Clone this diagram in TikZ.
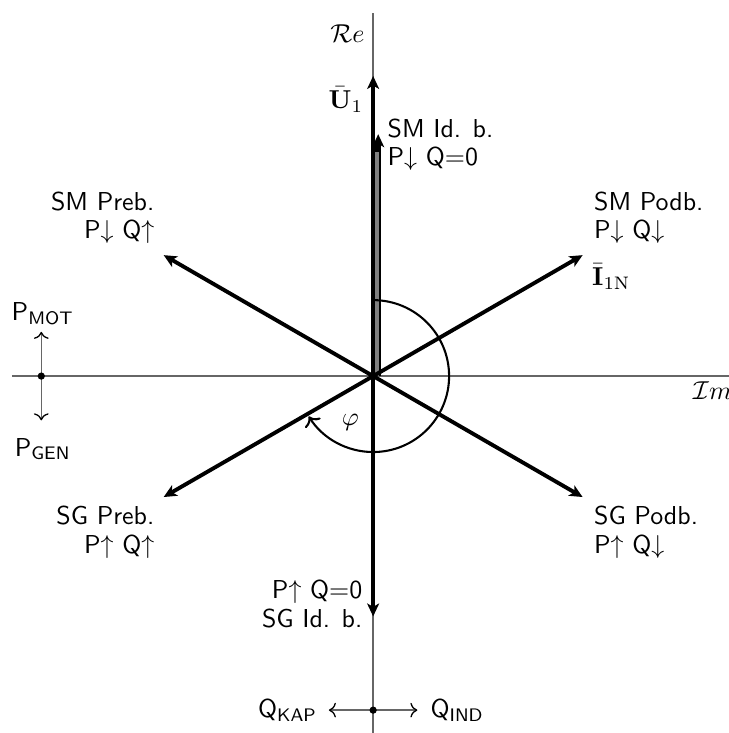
\documentclass[tikz,border=0pt]{standalone}
\usepackage{amsmath,amssymb}
\usepackage{tikz}
\usepackage{xcolor}
\usetikzlibrary{arrows.meta}

\begin{document}
\begin{tikzpicture}[x=1cm,y=1cm,
  axis/.style={black!60,line width=0.5pt},
  small/.style={black!60,line width=0.5pt,-{To[black]}},
  vec/.style={line width=1.5pt,-{Stealth[length=5pt,width=4.6pt,inset=1.3pt]}},
  lbl/.style={font=\sffamily,inner sep=0pt}]
\useasboundingbox (-5.06,-4.84) rectangle (4.82,5.10);
\coordinate (O) at (0,0);
\coordinate (ReTop) at (0,4.93);
\coordinate (ReBot) at (0,-4.84);
\coordinate (ImLeft) at (-4.90,0);
\coordinate (ImRight) at (4.82,0);
\draw[axis] (ReBot) -- (ReTop);
\draw[axis] (ImLeft) -- (ImRight);
\node (re) at (-0.35,4.64) {$\mathcal{R}e$};
\node (im) at (4.6,-0.2) {$\mathcal{I}m$};
\coordinate (U) at (0,4.07);
\coordinate (SMid) at (90:3.28);
\coordinate (SMpreb) at (150:3.28);
\coordinate (SMpodb) at (30:3.28);
\coordinate (SGpreb) at (210:3.28);
\coordinate (SGpodb) at (-30:3.28);
\coordinate (SGid) at (-90:3.26);
\draw[vec] (O) -- (U);
\draw[vec,line width=2.3pt] ([xshift=1.95pt]O) -- ([xshift=1.95pt]SMid);
\draw[gray,line width=1.5pt] ([xshift=1.55pt]O) -- ([xshift=1.55pt,yshift=-7pt]SMid);
\draw[vec] (O) -- (SMpreb);
\draw[vec] (O) -- (SMpodb);
\draw[vec] (O) -- (SGpreb);
\draw[vec] (O) -- (SGpodb);
\draw[vec] (O) -- (SGid);
\coordinate (phiA) at (90:1.03);
\draw[line width=0.8pt,->] (phiA) arc[start angle=90,end angle=-148,radius=1.03];
\node (phi) at (-0.31,-0.63) {$\varphi$};
\node[inner sep=1pt] (u1) at (-0.37,3.75) {$\bar{\mathbf{U}}_1$};
\node[inner sep=1pt] (i1n) at (3.23,1.35) {$\bar{\mathbf{I}}_{1\mathrm{N}}$};
\node[lbl,anchor=west,align=left] (smidl) at (0.19,3.14) {SM Id. b.\\[-1pt]P$\downarrow$ Q$=$0};
\node[lbl,anchor=east,align=right] (smprebl) at (-2.96,2.15) {SM Preb.\\[-1pt]P$\downarrow$ Q$\uparrow$};
\node[lbl,anchor=west,align=left] (smpodbl) at (2.99,2.15) {SM Podb.\\[-1pt]P$\downarrow$ Q$\downarrow$};
\node[lbl,anchor=east,align=right] (sgprebl) at (-2.96,-2.12) {SG Preb.\\[-1pt]P$\uparrow$ Q$\uparrow$};
\node[lbl,anchor=west,align=left] (sgpodbl) at (2.99,-2.12) {SG Podb.\\[-1pt]P$\uparrow$ Q$\downarrow$};
\node[lbl,anchor=east,align=right] (sgidl) at (-0.14,-3.09) {P$\uparrow$ Q$=$0\\[-1pt]SG Id. b.};
\coordinate (pdot) at (-4.5,0);
\coordinate (pup) at (-4.5,0.6);
\coordinate (pdown) at (-4.5,-0.6);
\draw[small] (pdot) -- (pup);
\draw[small] (pdot) -- (pdown);
\fill (pdot) circle (1.4pt);
\node[font=\sffamily] (pmot) at (-4.48,0.84) {P\textsubscript{MOT}};
\node[font=\sffamily] (pgen) at (-4.48,-0.99) {P\textsubscript{GEN}};
\coordinate (qdot) at (0,-4.53);
\coordinate (qleft) at (-0.6,-4.53);
\coordinate (qright) at (0.6,-4.53);
\draw[small] (qdot) -- (qleft);
\draw[small] (qdot) -- (qright);
\fill (qdot) circle (1.4pt);
\node[font=\sffamily] (qkap) at (-1.16,-4.53) {Q\textsubscript{KAP}};
\node[font=\sffamily] (qind) at (1.14,-4.53) {Q\textsubscript{IND}};
\end{tikzpicture}
\end{document}
